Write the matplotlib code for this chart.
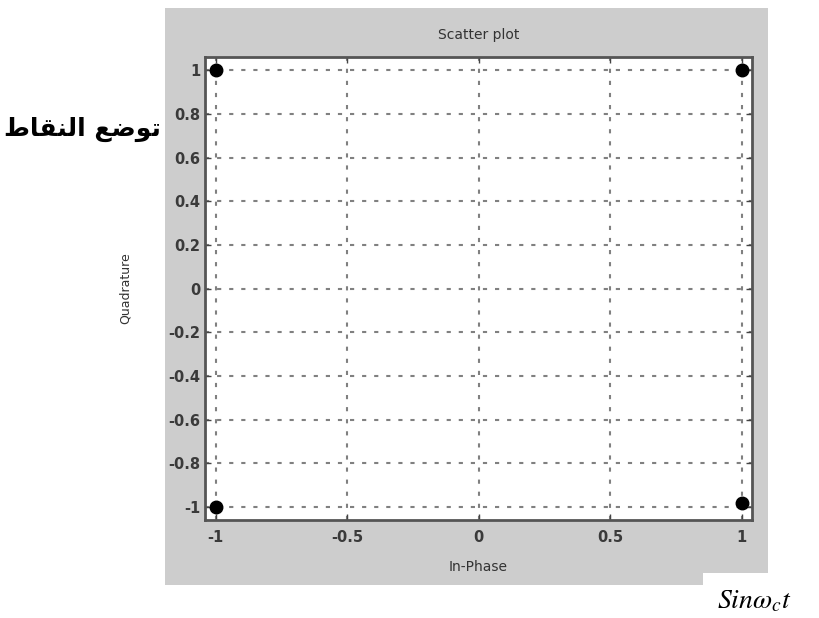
import matplotlib.pyplot as plt
import matplotlib.patches as patches
import numpy as np

# constellation points (in-phase, quadrature)
in_phase = [-1, 1, -1, 1]
quadrature = [1, 1, -1, -0.98]

xticks = [-1, -0.5, 0, 0.5, 1]
xtick_labels = ['-1', '-0.5', '0', '0.5', '1']
yticks = [-1, -0.8, -0.6, -0.4, -0.2, 0, 0.2, 0.4, 0.6, 0.8, 1]
ytick_labels = ['-1', '-0.8', '-0.6', '-0.4', '-0.2', '0', '0.2', '0.4', '0.6', '0.8', '1']

title = 'Scatter plot'
xlabel = 'In-Phase'
ylabel = 'Quadrature'
# "توضع النقاط" written in shaped presentation forms, visual order
side_label = '\ufec1\ufe8e\ufed8\ufee8\ufedf\ufe8d \ufeca\ufebf\ufeee\ufe97'
corner_label = r'$Sin\omega_c t$'

plt.rcParams['mathtext.fontset'] = 'stix'

fig = plt.figure(figsize=(8.19, 6.18), dpi=100)
fig.patch.set_facecolor('white')

# gray panel behind the axes
panel = patches.Rectangle((0.2015, 0.053), 0.736, 0.934, transform=fig.transFigure,
                          facecolor='#cdcdcd', edgecolor='none', zorder=-5)
fig.patches.append(panel)
# white box for the corner label
box = patches.Rectangle((0.858, 0.0), 0.129, 0.073, transform=fig.transFigure,
                        facecolor='white', edgecolor='none', zorder=-4)
fig.patches.append(box)

ax = fig.add_axes([0.2503, 0.1586, 0.668, 0.749])
ax.set_zorder(1)
ax.set_facecolor('white')
ax.plot(in_phase, quadrature, 'o', color='black', markersize=9, zorder=3)

ax.set_xlim(-1.04, 1.04)
ax.set_ylim(-1.06, 1.06)
ax.set_xticks(xticks)
ax.set_xticklabels(xtick_labels)
ax.set_yticks(yticks)
ax.set_yticklabels(ytick_labels)
ax.tick_params(direction='in', length=4, width=1, colors='#444444', labelsize=10.5,
               top=True, right=True, labelcolor='#3a3a3a')
ax.tick_params(axis='x', pad=7)
for lbl in ax.get_xticklabels() + ax.get_yticklabels():
    lbl.set_fontweight('bold')
ax.grid(True, linestyle=(0, (2, 3.8)), color='#808080', linewidth=1.5)

for s in ax.spines.values():
    s.set_linewidth(2)
    s.set_color('#555555')

ax.set_title(title, fontsize=10, color='#333333', pad=13)
ax.set_xlabel(xlabel, fontsize=10, color='#333333', labelpad=11)
ax.set_ylabel(ylabel, fontsize=9, color='#333333', labelpad=26)

fig.text(0.005, 0.79, side_label, fontsize=18, fontweight='bold', family=['DejaVu Sans'],
         ha='left', va='center')
fig.text(0.921, 0.029, corner_label, fontsize=20, ha='center', va='center')

fig.savefig('out.png', dpi=100)
